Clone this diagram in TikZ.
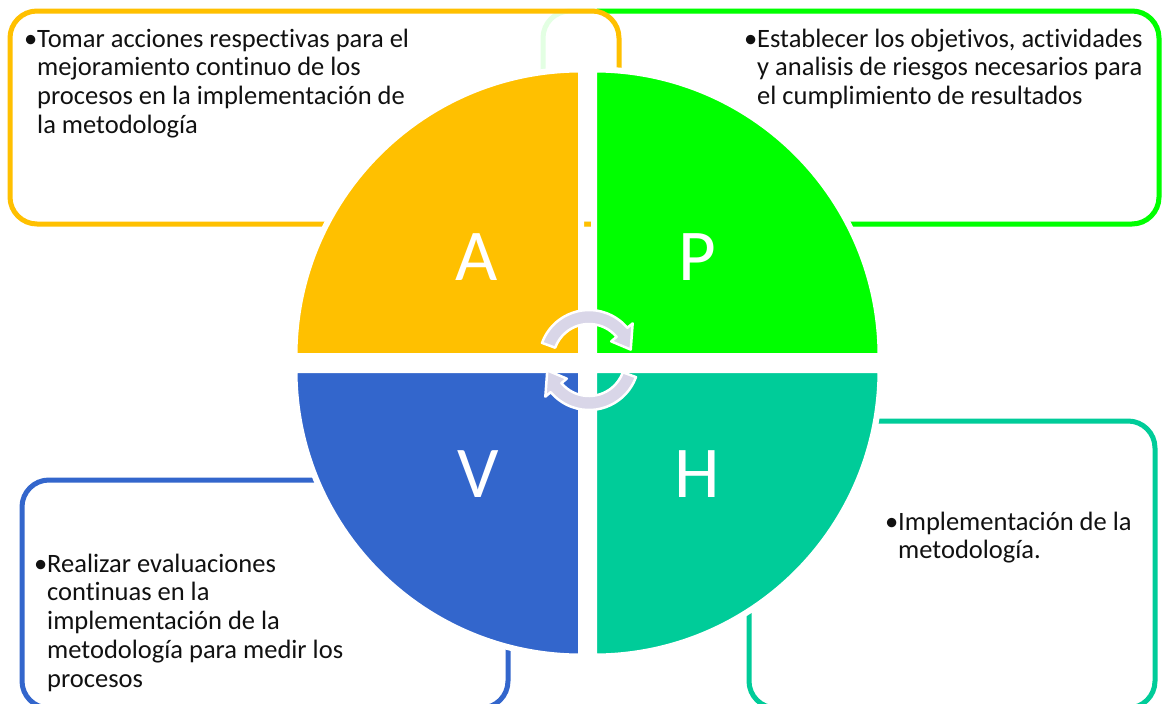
\documentclass[tikz,border=0pt]{standalone}
\usepackage{fontspec}
\setmainfont{Carlito}[Ligatures={NoCommon,NoContextual}]
\usetikzlibrary{calc}
\definecolor{cA}{HTML}{FFC000}
\definecolor{cP}{HTML}{00FF00}
\definecolor{cPpale}{HTML}{E3FFE3}
\definecolor{cV}{HTML}{3366CC}
\definecolor{cH}{HTML}{00CC99}
\definecolor{cArrow}{HTML}{D9D6E8}
\definecolor{txt}{HTML}{111111}
\begin{document}
\begin{tikzpicture}[x=1pt,y=-1pt,
  box/.style={line width=5pt, rounded corners=27pt},
  quad/.style={draw=white, line width=6pt, line join=round},
  letter/.style={text=white, font=\fontsize{73}{80}\selectfont, anchor=base, inner sep=0pt},
  desc/.style={anchor=north west, inner sep=0pt, align=left, text=txt, font=\fontsize{26.5}{28.7}\selectfont},
  cyc/.style={fill=cArrow, draw=white, line width=2.5pt, line join=round}]
\fill[white] (0,0) rectangle (1165,704);
\useasboundingbox (0,0) rectangle (1165,704);
% outer boxes
\draw[box, cPpale] (543,11) rectangle (1159,224);
\draw[box, cP] (597,11) -- (1159,11) -- (1159,224) -- (597,224);
\draw[box, cA] (10,11) rectangle (619,224);
\draw[box, cH] (749,421) rectangle (1155,708);
\draw[box, cV] (22,480) rectangle (508,708);
% quadrants
\path[quad, fill=cA] (581,356) -- ++(-286.5,0) arc[start angle=180, end angle=270, radius=286.5] -- cycle;
\path[quad, fill=cP] (594,356) -- ++(0,-286.5) arc[start angle=270, end angle=360, radius=286.5] -- cycle;
\path[quad, fill=cV] (581,370) -- ++(0,286.5) arc[start angle=90, end angle=180, radius=286.5] -- cycle;
\path[quad, fill=cH] (594,370) -- ++(286.5,0) arc[start angle=0, end angle=90, radius=286.5] -- cycle;
% letters
\node[letter] (A) at (477,280) {A};
\node[letter] (P) at (697,280) {P};
\node[letter] (V) at (478,497) {V};
\node[letter] (H) at (697,497) {H};
% cycle arrows
\coordinate (c1) at (589,360);
\path[cyc] ($(c1)+(-160:50)$) arc[start angle=-160, end angle=-40, radius=50]
  -- ($(c1)+(-40:57)$) -- ($(c1)+(-14:43)$) -- ($(c1)+(-40:29)$)
  -- ($(c1)+(-40:36)$) arc[start angle=-40, end angle=-160, radius=36] -- cycle;
\begin{scope}[rotate around={180:(588.5,364)}]
\path[cyc] ($(c1)+(-160:50)$) arc[start angle=-160, end angle=-40, radius=50]
  -- ($(c1)+(-40:57)$) -- ($(c1)+(-14:43)$) -- ($(c1)+(-40:29)$)
  -- ($(c1)+(-40:36)$) arc[start angle=-40, end angle=-160, radius=36] -- cycle;
\end{scope}
% texts
\node[desc] (tA) at (37,25) {\llap{•}\rule{0pt}{22pt}Tomar acciones respectivas para el\\mejoramiento continuo de los\\procesos en la implementación de\\la metodología};
\node[desc] (tP) at (757,25) {\llap{•}\rule{0pt}{22pt}Establecer los objetivos, actividades\\y analisis de riesgos necesarios para\\el cumplimiento de resultados};
\node[desc] (tH) at (898,508) {\llap{•}\rule{0pt}{22pt}Implementación de la\\metodología.};
\node[desc] (tV) at (47,550) {\llap{•}\rule{0pt}{22pt}Realizar evaluaciones\\continuas en la\\implementación de la\\metodología para medir los\\procesos};
\end{tikzpicture}
\end{document}
